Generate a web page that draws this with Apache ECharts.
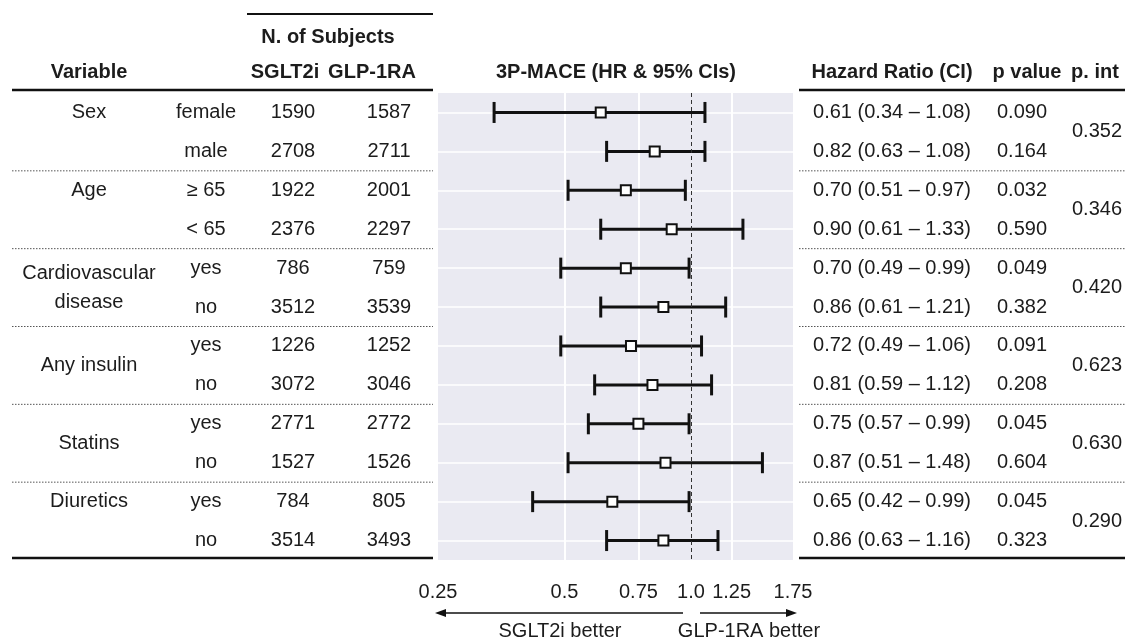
<!DOCTYPE html>
<html>
<head>
<meta charset="utf-8">
<title>3P-MACE subgroup forest plot</title>
<script src="https://cdn.jsdelivr.net/npm/echarts@6/dist/echarts.min.js"></script>
<style>
  html, body { margin: 0; padding: 0; background: #fff; }
  #chart { width: 1125px; height: 641px; }
</style>
</head>
<body>
<div id="chart"></div>
<script>
// ---- data ----
const groupNames = ['Sex', 'Age', 'Cardiovascular\ndisease', 'Any insulin', 'Statins', 'Diuretics']
const subgroups = ['female', 'male', '≥ 65', '< 65', 'yes', 'no', 'yes', 'no', 'yes', 'no', 'yes', 'no']
const nSglt2 = [1590, 2708, 1922, 2376, 786, 3512, 1226, 3072, 2771, 1527, 784, 3514]
const nGlp1 = [1587, 2711, 2001, 2297, 759, 3539, 1252, 3046, 2772, 1526, 805, 3493]
const hr = [0.61, 0.82, 0.70, 0.90, 0.70, 0.86, 0.72, 0.81, 0.75, 0.87, 0.65, 0.86]
const ciLow = [0.34, 0.63, 0.51, 0.61, 0.49, 0.61, 0.49, 0.59, 0.57, 0.51, 0.42, 0.63]
const ciHigh = [1.08, 1.08, 0.97, 1.33, 0.99, 1.21, 1.06, 1.12, 0.99, 1.48, 0.99, 1.16]
const pValues = ['0.090', '0.164', '0.032', '0.590', '0.049', '0.382', '0.091', '0.208', '0.045', '0.604', '0.045', '0.323']
const pInteraction = ['0.352', '0.346', '0.420', '0.623', '0.630', '0.290']
const xTickValues = [0.25, 0.5, 0.75, 1.0, 1.25, 1.75]
const xTickLabels = ['0.25', '0.5', '0.75', '1.0', '1.25', '1.75']
const xGridValues = [0.5, 0.75, 1.25]

// group label sits on first row (false) or centred on both rows (true)
const groupCentered = [false, false, true, true, true, false]

const FONT = '"Liberation Sans", Arial, Helvetica, sans-serif'
const INK = '#1c1c1c'
const rowIdx = subgroups.map((_, i) => i)

const chart = echarts.init(document.getElementById('chart'))

const option = {
  animation: false,
  grid: {
    left: 438,
    right: 332,
    top: 93,
    bottom: 81,
    show: true,
    backgroundColor: '#eaeaf2',
    borderWidth: 0
  },
  xAxis: {
    type: 'log',
    logBase: 2,
    min: 0.25,
    max: 1.75,
    axisLine: { show: false },
    axisTick: { show: false, customValues: xGridValues },
    splitLine: { show: true, lineStyle: { color: '#ffffff', width: 2 } },
    axisLabel: {
      customValues: xTickValues,
      margin: 22,
      fontSize: 20,
      fontFamily: FONT,
      color: INK,
      formatter: v => {
        let best = 0
        xTickValues.forEach((t, k) => {
          if (Math.abs(t - v) < Math.abs(xTickValues[best] - v)) best = k
        })
        return xTickLabels[best]
      }
    }
  },
  yAxis: {
    type: 'value',
    inverse: true,
    min: -0.5,
    max: 11.5,
    axisLine: { show: false },
    axisTick: { show: false, customValues: rowIdx },
    axisLabel: { show: false },
    splitLine: { show: true, lineStyle: { color: '#ffffff', width: 1.5 } }
  },
  series: [
    {
      type: 'custom',
      silent: true,
      z: 3,
      encode: { x: [1, 2], y: 0 },
      data: rowIdx.map(i => [i, ciLow[i], ciHigh[i]]),
      renderItem: (params, api) => {
        const y = api.value(0)
        const lo = api.coord([api.value(1), y])
        const hi = api.coord([api.value(2), y])
        const cap = 10.5
        const style = { stroke: '#111', lineWidth: 3 }
        return {
          type: 'group',
          children: [
            { type: 'line', shape: { x1: lo[0], y1: lo[1], x2: hi[0], y2: hi[1] }, style },
            { type: 'line', shape: { x1: lo[0], y1: lo[1] - cap, x2: lo[0], y2: lo[1] + cap }, style },
            { type: 'line', shape: { x1: hi[0], y1: hi[1] - cap, x2: hi[0], y2: hi[1] + cap }, style }
          ]
        }
      },
      markLine: {
        silent: true,
        symbol: 'none',
        label: { show: false },
        lineStyle: { color: '#333', type: [4, 3], width: 1 },
        data: [{ xAxis: 1 }]
      }
    },
    {
      type: 'scatter',
      silent: true,
      z: 4,
      symbol: 'rect',
      symbolSize: 10,
      itemStyle: { color: '#ffffff', borderColor: '#111', borderWidth: 2, opacity: 1 },
      data: rowIdx.map(i => [hr[i], i])
    }
  ]
}

chart.setOption(option)

// ---- table around the plot ----
function txt (text, x, y, extra) {
  return {
    type: 'text',
    x: x,
    y: y,
    silent: true,
    style: Object.assign({
      text: text,
      font: '20px ' + FONT,
      fill: INK,
      align: 'center',
      verticalAlign: 'middle'
    }, extra || {})
  }
}
function rule (x1, x2, y, w, dash) {
  return {
    type: 'line',
    silent: true,
    shape: { x1: x1, y1: y, x2: x2, y2: y },
    style: { stroke: dash ? '#555' : '#111', lineWidth: w, lineDash: dash || null }
  }
}
const rowY = i => chart.convertToPixel({ yAxisIndex: 0 }, i)
const bold = { font: 'bold 20px ' + FONT }

const graphics = []
// header
graphics.push(rule(247, 433, 14, 2))
graphics.push(txt('N. of Subjects', 328, 37, bold))
graphics.push(txt('Variable', 89, 72, bold))
graphics.push(txt('SGLT2i', 285, 72, bold))
graphics.push(txt('GLP-1RA', 372, 72, bold))
graphics.push(txt('3P-MACE (HR & 95% CIs)', 616, 72, bold))
graphics.push(txt('Hazard Ratio (CI)', 892, 72, bold))
graphics.push(txt('p value', 1027, 72, bold))
graphics.push(txt('p. int', 1095, 72, bold))
graphics.push(rule(12, 433, 90, 2.5))
graphics.push(rule(799, 1125, 90, 2.5))
graphics.push(rule(12, 433, 558, 2.5))
graphics.push(rule(799, 1125, 558, 2.5))

// rows
rowIdx.forEach(i => {
  const y = rowY(i)
  graphics.push(txt(subgroups[i], 206, y))
  graphics.push(txt(String(nSglt2[i]), 293, y))
  graphics.push(txt(String(nGlp1[i]), 389, y))
  const ci = hr[i].toFixed(2) + ' (' + ciLow[i].toFixed(2) + ' \u2013 ' + ciHigh[i].toFixed(2) + ')'
  graphics.push(txt(ci, 892, y))
  graphics.push(txt(pValues[i], 1022, y))
})

// groups
groupNames.forEach((name, g) => {
  const first = g * 2
  const yMid = (rowY(first) + rowY(first + 1)) / 2
  const y = groupCentered[g] ? yMid : rowY(first)
  graphics.push(txt(name, 89, y, { lineHeight: 29 }))
  graphics.push(txt(pInteraction[g], 1097, yMid))
  if (g > 0) {
    const ySep = rowY(first - 0.5)
    graphics.push(rule(12, 433, ySep, 1, [1.5, 1.5]))
    graphics.push(rule(799, 1125, ySep, 1, [1.5, 1.5]))
  }
})

// direction arrows
const arrowY = 613
graphics.push({ type: 'line', silent: true, shape: { x1: 443, y1: arrowY, x2: 683, y2: arrowY }, style: { stroke: '#111', lineWidth: 1.5 } })
graphics.push({ type: 'polygon', silent: true, shape: { points: [[435, arrowY], [446, arrowY - 4], [446, arrowY + 4]] }, style: { fill: '#111' } })
graphics.push({ type: 'line', silent: true, shape: { x1: 700, y1: arrowY, x2: 789, y2: arrowY }, style: { stroke: '#111', lineWidth: 1.5 } })
graphics.push({ type: 'polygon', silent: true, shape: { points: [[797, arrowY], [786, arrowY - 4], [786, arrowY + 4]] }, style: { fill: '#111' } })
graphics.push(txt('SGLT2i better', 560, 631))
graphics.push(txt('GLP-1RA better', 749, 631))

chart.setOption({ graphic: graphics })
</script>
</body>
</html>
